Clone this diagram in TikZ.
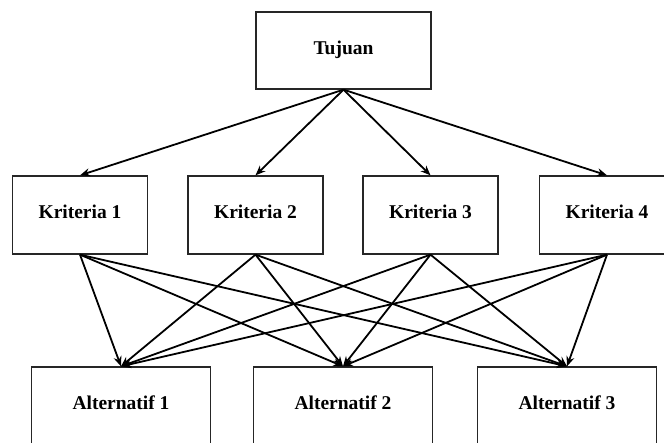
\documentclass[tikz,border=0pt]{standalone}
\usepackage{fontspec}
\setmainfont{Liberation Serif}
\usetikzlibrary{arrows.meta}
\begin{document}
\begin{tikzpicture}[x=1pt,y=-1pt,
  box/.style={draw=black!85,line width=1.3pt,rectangle,inner sep=0pt,
    font=\bfseries\fontsize{19.5}{22}\selectfont},
  kbox/.style={box,minimum width=135pt,minimum height=78pt,text height=14pt,text depth=6.5pt},
  abox/.style={box,minimum width=179pt,minimum height=90pt,text height=14pt,text depth=19pt},
  link/.style={line width=1.8pt,-{Stealth[length=10pt,width=8pt]}}]
\useasboundingbox (0,0) rectangle (664,442);
\clip (0,0) rectangle (664,442);
\fill[white] (0,0) rectangle (664,442);
\node[box,minimum width=175pt,minimum height=77pt,text height=14pt,text depth=6pt] (t) at (343.5,50.5) {Tujuan};
\node[kbox] (k1) at (80,215) {Kriteria 1};
\node[kbox] (k2) at (255.5,215) {Kriteria 2};
\node[kbox] (k3) at (430.5,215) {Kriteria 3};
\node[kbox] (k4) at (607,215) {Kriteria 4};
\node[abox] (a1) at (121,412) {Alternatif 1};
\node[abox] (a2) at (343,412) {Alternatif 2};
\node[abox] (a3) at (567,412) {Alternatif 3};
\foreach \k in {k1,k2,k3,k4}{
  \draw[link] (t.south) -- (\k.north);
  \foreach \a in {a1,a2,a3}{
    \draw[link] (\k.south) -- (\a.north);
  }
}
\end{tikzpicture}
\end{document}
